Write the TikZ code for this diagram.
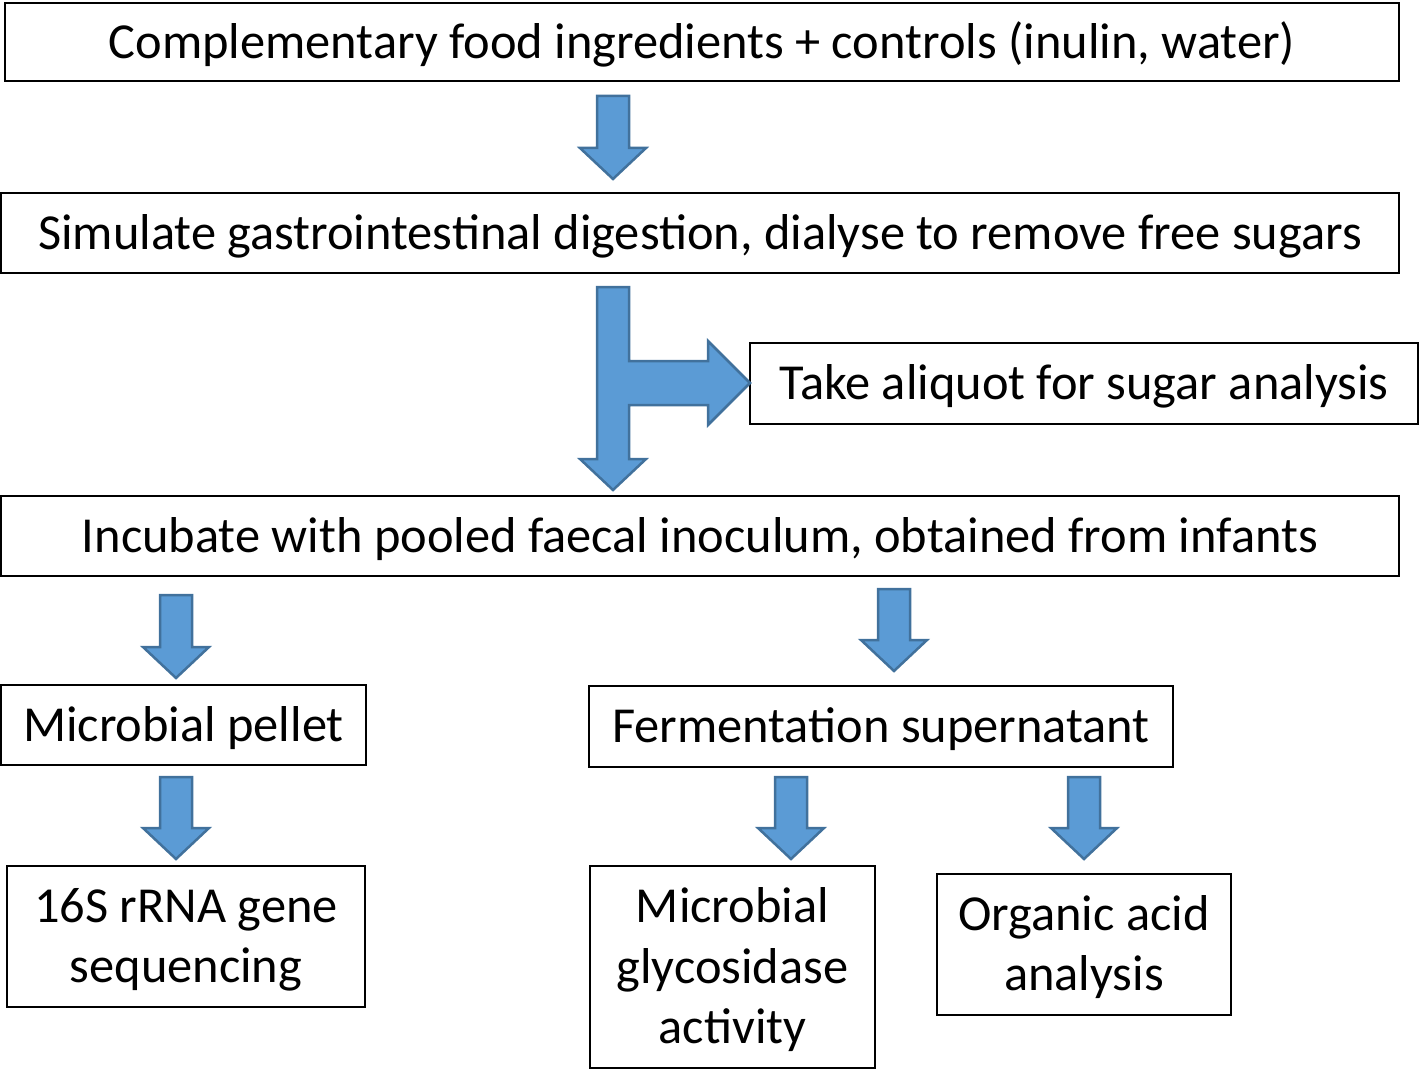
\documentclass[tikz,border=0pt]{standalone}
\usepackage{fontspec}
\setmainfont{Carlito}
\newcommand{\tx}[1]{\raisebox{-4pt}[\height][\depth]{\begin{tabular}{@{}c@{}}#1\end{tabular}}}
\begin{document}
\begin{tikzpicture}[x=1pt,y=-1pt,
  box/.style={draw=black, line width=2pt, inner sep=0pt, font=\fontsize{50.4}{60.5}\selectfont},
  blk/.style={fill=arrowfill, draw=arrowline, line width=2.5pt, line join=miter}]
\definecolor{arrowfill}{HTML}{5B9BD5}
\definecolor{arrowline}{HTML}{41719C}
\useasboundingbox (0,0) rectangle (1419,1070);
\newcommand{\blockdown}[3]{%
  \filldraw[blk] (#1-16,#2) -- (#1+16,#2) -- (#1+16,#3-31) -- (#1+33,#3-31) -- (#1,#3) -- (#1-33,#3-31) -- (#1-16,#3-31) -- cycle;}
\node[box, minimum width=1394pt, minimum height=78pt] (b1) at (702,42) {\tx{Complementary food ingredients + controls (inulin, water)}};
\node[box, minimum width=1398pt, minimum height=80pt] (b2) at (700,233) {\tx{Simulate gastrointestinal digestion, dialyse to remove free sugars}};
\node[box, minimum width=668pt, minimum height=81pt] (b5) at (1084,383.5) {\tx{Take aliquot for sugar analysis}};
\node[box, minimum width=1398pt, minimum height=80pt] (b3) at (700,536) {\tx{Incubate with pooled faecal inoculum, obtained from infants}};
\node[box, minimum width=365pt, minimum height=80pt] (pel) at (183.5,725) {\tx{Microbial pellet}};
\node[box, minimum width=584pt, minimum height=81pt] (fer) at (881,726.5) {\tx{Fermentation supernatant}};
\node[box, minimum width=358pt, minimum height=141pt] (seq) at (186,936.5) {\tx{16S rRNA gene\\sequencing}};
\node[box, minimum width=285pt, minimum height=202pt] (gly) at (732.5,967) {\tx{Microbial\\glycosidase\\activity}};
\node[box, minimum width=294pt, minimum height=141pt] (org) at (1084,944.5) {\tx{Organic acid\\analysis}};
\blockdown{613}{96}{179}
\filldraw[blk] (597,287) -- (629,287) -- (629,361) -- (708,361) -- (708,341) -- (750,383) -- (708,425) -- (708,405) -- (629,405) -- (629,459) -- (646,459) -- (613,490) -- (580,459) -- (597,459) -- cycle;
\blockdown{176}{595}{678}
\blockdown{894}{589}{671}
\blockdown{176}{777}{859}
\blockdown{791}{777}{859}
\blockdown{1084}{777}{859}
\end{tikzpicture}
\end{document}
